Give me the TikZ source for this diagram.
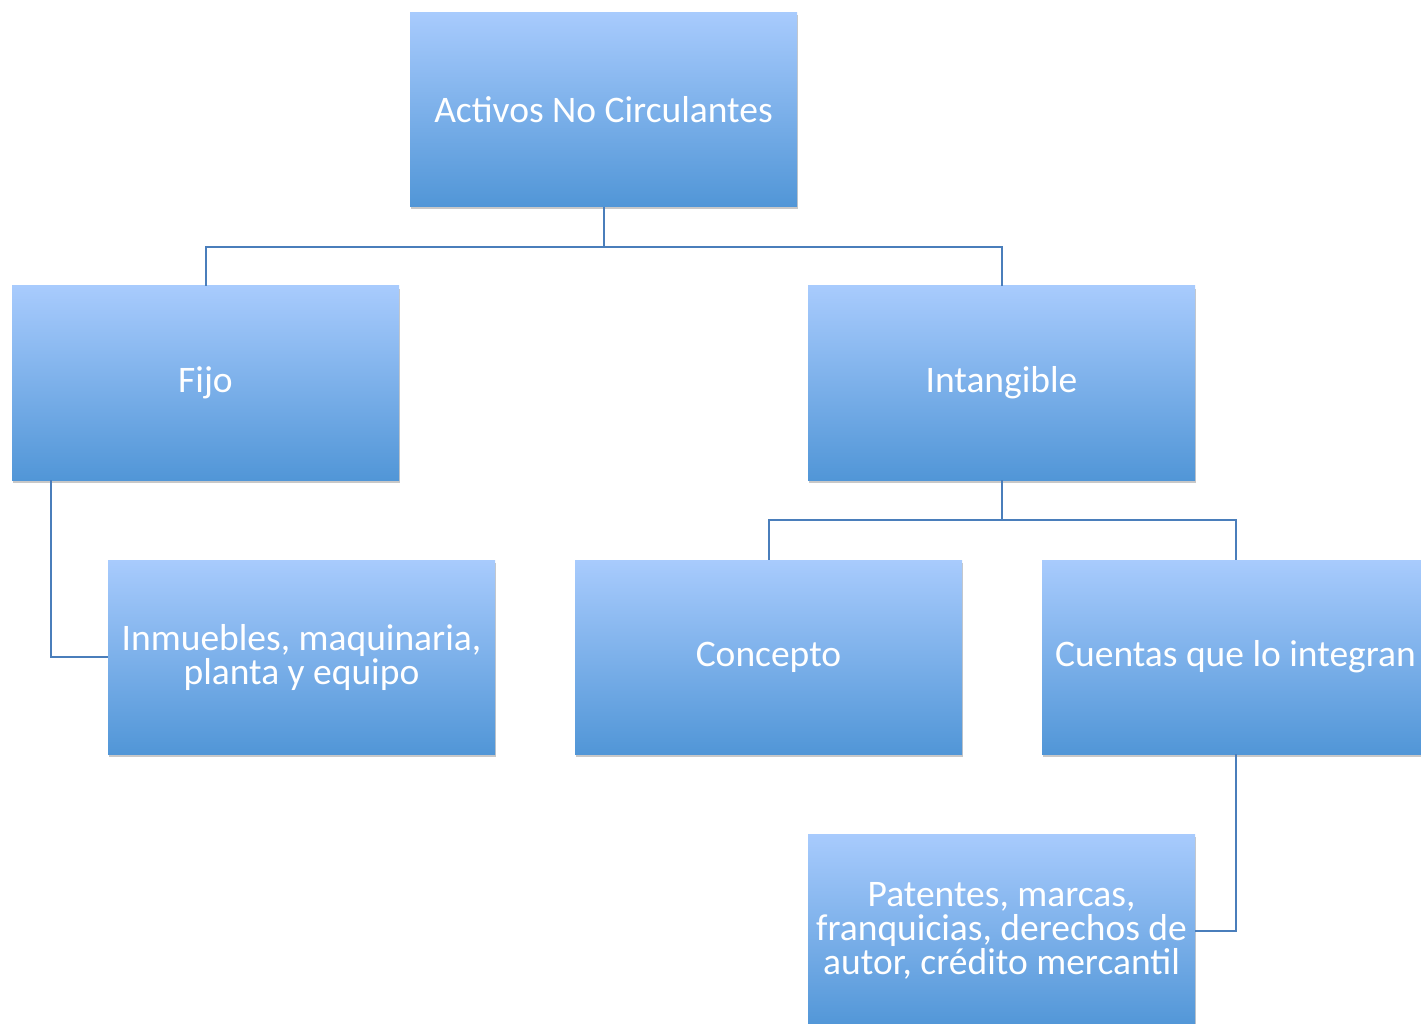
\documentclass[tikz,border=0pt]{standalone}
\usepackage{fontspec}
\setmainfont{Carlito}
\usetikzlibrary{shadows,calc}
\definecolor{boxtop}{RGB}{168,203,253}
\definecolor{boxbot}{RGB}{81,150,215}
\definecolor{linec}{RGB}{74,126,187}
\tikzset{
  box/.style={rectangle, minimum width=387pt, minimum height=194pt, inner sep=2pt,
    top color=boxtop, bottom color=boxbot, text=white, align=center,
    font=\fontsize{37.5}{34}\selectfont,
    drop shadow={shadow xshift=1pt, shadow yshift=-3pt, opacity=0.3, fill=black!70}},
  conn/.style={draw=linec, line width=2pt}
}
\begin{document}
\begin{tikzpicture}[x=1pt,y=-1pt]
\useasboundingbox (0,0) rectangle (1421,1024);
\clip (0,0) rectangle (1421,1024);
\fill[white] (0,0) rectangle (1421,1024);
\node[box] (top) at (603.5,109.5) {Activos No Circulantes};
\node[box] (fijo) at (205.5,383) {Fijo};
\node[box] (intang) at (1001.5,383) {Intangible};
\node[box] (inm) at (301.5,657) {Inmuebles, maquinaria,\\planta y equipo};
\node[box] (concepto) at (768.5,657) {Concepto};
\node[box] (cuentas) at (1235.5,657) {Cuentas que lo integran};
\node[box] (pat) at (1001.5,931) {Patentes, marcas,\\franquicias, derechos de\\autor, crédito mercantil};
\coordinate (j1) at ($(top.south)+(0,40)$);
\coordinate (j2) at ($(intang.south)+(0,40)$);
\coordinate (fd) at ($(fijo.south west)+(39,0)$);
\draw[conn] (top.south) -- (j1) -| (fijo.north);
\draw[conn] (j1) -| (intang.north);
\draw[conn] (fd) |- (inm.west);
\draw[conn] (intang.south) -- (j2) -| (concepto.north);
\draw[conn] (j2) -| (cuentas.north);
\draw[conn] (cuentas.south) |- (pat.east);
\end{tikzpicture}
\end{document}
